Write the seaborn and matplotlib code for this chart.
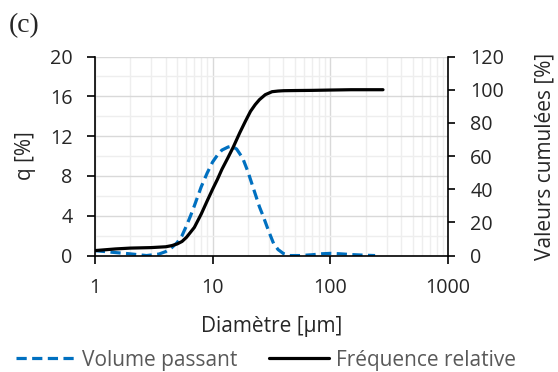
import matplotlib
matplotlib.use('Agg')
import matplotlib.pyplot as plt
from matplotlib.ticker import FixedLocator, FixedFormatter, NullFormatter
import seaborn as sns

# particle size distribution
diam_q = [1, 1.5, 2, 2.75, 3.5, 4, 4.5, 5, 5.5, 6, 6.5, 7, 8, 9, 10, 11, 12,
          13.5, 14.5, 16, 18, 20, 22, 25, 27, 29, 31, 33, 36, 40, 45, 55, 70,
          85, 100, 120, 150, 200, 240]
q_vals = [0.5, 0.3, 0.17, 0.0, 0.15, 0.4, 0.8, 1.3, 2.0, 3.0, 4.0, 5.0, 6.9,
          8.3, 9.4, 10.1, 10.6, 10.9, 11.0, 10.7, 9.8, 8.4, 6.9, 4.9, 3.9,
          2.9, 2.0, 1.2, 0.6, 0.2, 0.0, 0.0, 0.08, 0.18, 0.22, 0.18, 0.1,
          0.03, 0.0]

diam_cum = [1, 1.5, 2, 3, 4, 4.5, 5, 5.5, 6, 7, 8, 9, 10, 11, 12, 13.5, 15,
            17, 19, 21, 23, 25, 28, 32, 36, 40, 50, 70, 100, 150, 200, 280]
cum_vals = [3.0, 4.0, 4.5, 4.8, 5.3, 6.0, 7.0, 8.5, 11, 17, 25, 33, 40, 46,
            52, 59, 65.5, 74, 81, 87, 91, 94, 97, 98.8, 99.2, 99.4, 99.5,
            99.6, 99.8, 100, 100, 100]

x_ticks = [1, 10, 100, 1000]
x_minor = [m * d for d in [1, 10, 100] for m in range(2, 10)]
left_ticks = [0, 4, 8, 12, 16, 20]
right_ticks = [0, 20, 40, 60, 80, 100, 120]

sns.set_theme(style='white')
plt.rcParams['font.family'] = ['Open Sans', 'DejaVu Sans']
plt.rcParams['font.size'] = 15

fs_tick = 14.2
fs_lab = 15

fig = plt.figure(figsize=(5.58, 3.72), dpi=100)
ax = fig.add_axes([0.170, 0.313, 0.633, 0.535])
ax2 = ax.twinx()

blue = '#0070C0'
sns.lineplot(x=diam_q, y=q_vals, ax=ax, color=blue, lw=2.3,
             linestyle=(0, (3.2, 1.7)), label='Volume passant', legend=False)
sns.lineplot(x=diam_cum, y=cum_vals, ax=ax2, color='black', lw=2.3,
             label='Fréquence relative', legend=False)

ax.set_xscale('log')
ax.set_xlim(1, 1000)
ax.set_ylim(0, 20)
ax2.set_ylim(0, 120)

ax.xaxis.set_major_locator(FixedLocator(x_ticks))
ax.xaxis.set_major_formatter(FixedFormatter([str(t) for t in x_ticks]))
ax.xaxis.set_minor_locator(FixedLocator(x_minor))
ax.xaxis.set_minor_formatter(NullFormatter())
ax.yaxis.set_major_locator(FixedLocator(left_ticks))
ax.yaxis.set_minor_locator(FixedLocator([2, 6, 10, 14, 18]))
ax2.yaxis.set_major_locator(FixedLocator(right_ticks))

ax.grid(which='major', color='#d9d9d9', lw=1.0)
ax.grid(which='minor', color='#eeeeee', lw=1.0)
ax.set_axisbelow(True)

ax.tick_params(which='major', direction='out', length=6, width=1.2,
               color='black', pad=10, labelsize=fs_tick, left=True, bottom=True)
ax.tick_params(which='minor', length=0)
ax2.tick_params(direction='out', length=5, width=1.2, color='black', pad=11,
                labelsize=fs_tick, right=True)

for s in ['top', 'right']:
    ax.spines[s].set_visible(False)
for s in ['top', 'left', 'bottom']:
    ax2.spines[s].set_visible(False)
for sp in [ax.spines['left'], ax.spines['bottom'], ax2.spines['right']]:
    sp.set_color('black')
    sp.set_linewidth(1.2)

ax.set_xlabel('Diamètre [µm]', fontsize=fs_lab)
ax.xaxis.set_label_coords(0.5, -0.354)
ax.xaxis.label.set_va('center')
ax.set_ylabel('q [%]', fontsize=fs_lab)
ax.yaxis.set_label_coords(-0.195, 0.5)
ax.yaxis.label.set_va('center')
ax2.set_ylabel('Valeurs cumulées [%]', fontsize=fs_lab)
ax2.yaxis.set_label_coords(1.275, 0.5)
ax2.yaxis.label.set_va('center')

fig.text(0.016, 0.930, '(c)', fontsize=20, family='Liberation Serif',
         va='center', ha='left')

h1, l1 = ax.get_legend_handles_labels()
h2, l2 = ax2.get_legend_handles_labels()
fig.legend(h1 + h2, l1 + l2, loc='center', bbox_to_anchor=(0.476, 0.032),
           ncol=2, frameon=False, fontsize=fs_lab, handlelength=2.9,
           handletextpad=0.3, columnspacing=1.5, labelcolor='#595959',
           borderpad=0, borderaxespad=0)

fig.savefig('out.png', dpi=100)
